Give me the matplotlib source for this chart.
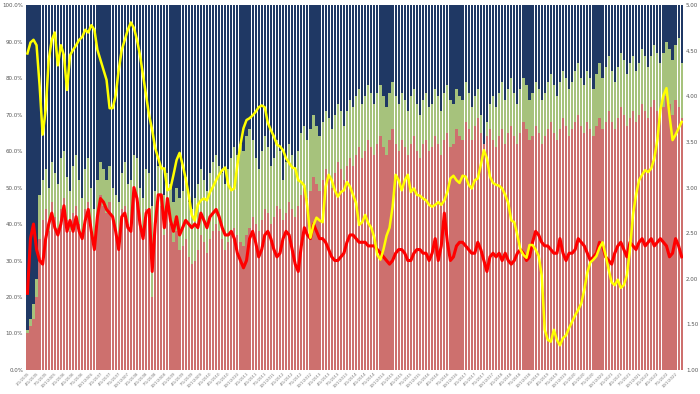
import numpy as np
import pandas as pd
import matplotlib
matplotlib.use('Agg')
import matplotlib.pyplot as plt
from matplotlib.ticker import FuncFormatter

# monthly periods
dates = pd.date_range('2005-01-01', periods=216, freq='MS')
date_labels = [f'{d.month}/{d.day}/{d.year}' for d in dates]

# share of the bottom segment (red), %
red_share = [
    10, 12, 14, 20, 36, 41, 44, 38, 46, 42, 39, 44, 47, 41, 38, 43, 45, 40, 37, 44,
    46, 40, 35, 42, 48, 45, 43, 46, 41, 38, 36, 44, 45, 40, 41, 49, 47, 41, 38, 44,
    43, 20, 39, 46, 45, 37, 44, 40, 35, 38, 33, 34, 36, 31, 29, 30, 33, 37, 35, 32,
    36, 38, 40, 38, 36, 33, 35, 38, 39, 37, 35, 34, 37, 39, 42, 40, 38, 41, 44, 43,
    40, 42, 45, 44, 41, 43, 46, 44, 42, 45, 48, 50, 47, 49, 53, 51, 49, 52, 55, 53,
    50, 54, 57, 55, 52, 56, 58, 56, 59, 61, 58, 60, 63, 61, 59, 62, 64, 61, 59, 63,
    66, 62, 60, 63, 61, 59, 62, 64, 60, 58, 62, 63, 60, 61, 64, 62, 59, 63, 65, 61,
    62, 66, 64, 63, 68, 66, 63, 67, 69, 65, 62, 64, 66, 63, 61, 64, 66, 62, 65, 67,
    64, 62, 65, 68, 66, 63, 64, 67, 65, 62, 64, 66, 68, 65, 63, 66, 69, 67, 64, 66,
    68, 70, 67, 65, 68, 66, 64, 67, 69, 66, 68, 71, 68, 66, 69, 72, 70, 67, 69, 71,
    68, 70, 73, 71, 69, 72, 74, 71, 69, 72, 75, 73, 70, 74, 72, 69,
]

# top of the middle segment (red + green), %
green_top = [
    11, 14, 18, 25, 48, 52, 55, 50, 57, 54, 51, 58, 60, 53, 49, 56, 59, 52, 47, 55,
    58, 50, 44, 52, 57, 55, 52, 56, 50, 48, 46, 54, 57, 51, 52, 59, 58, 50, 47, 55,
    54, 45, 49, 56, 55, 48, 54, 51, 46, 50, 47, 49, 53, 46, 44, 47, 51, 55, 52, 49,
    54, 57, 59, 56, 54, 51, 55, 58, 61, 59, 62, 60, 64, 66, 63, 58, 55, 60, 64, 61,
    56, 58, 63, 60, 52, 57, 62, 59, 55, 60, 65, 67, 63, 66, 70, 67, 64, 68, 71, 69,
    66, 70, 73, 71, 67, 71, 74, 72, 75, 77, 73, 75, 78, 76, 73, 76, 78, 75, 72, 76,
    79, 75, 73, 76, 74, 71, 75, 77, 73, 70, 74, 76, 72, 73, 77, 75, 71, 76, 78, 74,
    73, 77, 75, 74, 79, 76, 72, 75, 77, 70, 62, 68, 73, 75, 72, 76, 79, 74, 77, 80,
    76, 73, 77, 80, 78, 74, 76, 79, 77, 74, 76, 79, 81, 78, 75, 79, 82, 80, 77, 79,
    82, 84, 80, 78, 82, 80, 77, 81, 84, 80, 83, 86, 82, 79, 83, 87, 85, 81, 84, 86,
    82, 84, 88, 86, 83, 86, 89, 87, 84, 87, 90, 88, 85, 89, 91, 84,
]

# red line, left axis (%)
red_line = [
    21, 36, 40, 33, 30, 29, 36, 40, 43, 39, 37, 40, 45, 38, 41, 38, 42, 38, 36, 41,
    44, 38, 33, 42, 47, 46, 44, 43, 42, 38, 33, 42, 43, 39, 38, 50, 47, 40, 36, 43,
    44, 27, 40, 48, 48, 39, 47, 41, 38, 42, 37, 39, 41, 40, 39, 40, 39, 43, 41, 39,
    42, 43, 44, 42, 39, 37, 37, 38, 36, 32, 30, 28, 30, 36, 38, 35, 31, 33, 37, 38,
    36, 33, 31, 32, 36, 38, 37, 33, 29, 27, 34, 39, 37, 36, 40, 38, 36, 36, 35, 33,
    31, 30, 30, 31, 32, 35, 37, 37, 36, 35, 35, 35, 34, 34, 34, 33, 32, 31, 30, 29,
    30, 32, 33, 33, 32, 30, 30, 32, 33, 33, 32, 32, 30, 32, 36, 30, 34, 43, 35, 30,
    31, 34, 35, 35, 34, 33, 32, 32, 35, 33, 30, 27, 31, 32, 31, 32, 30, 32, 30, 29,
    30, 32, 33, 32, 30, 31, 35, 38, 37, 35, 34, 34, 33, 32, 32, 36, 32, 30, 32, 32,
    33, 36, 35, 34, 32, 30, 31, 32, 35, 34, 31, 30, 29, 32, 34, 35, 33, 31, 35, 34,
    33, 35, 36, 34, 35, 36, 34, 35, 36, 35, 34, 31, 32, 36, 34, 31,
]

# yellow line, right axis
yellow_line = [
    4.47, 4.59, 4.62, 4.56, 4.12, 3.58, 3.85, 4.40, 4.62, 4.70,
    4.34, 4.56, 4.45, 4.07, 4.45, 4.51, 4.56, 4.62, 4.65, 4.73,
    4.70, 4.78, 4.73, 4.51, 4.40, 4.29, 4.18, 3.87, 3.87, 4.01,
    4.29, 4.51, 4.62, 4.73, 4.81, 4.75, 4.62, 4.45, 4.23, 4.01,
    3.79, 3.63, 3.43, 3.32, 3.21, 3.21, 2.97, 2.99, 3.14, 3.30,
    3.38, 3.25, 3.10, 2.92, 2.70, 2.64, 2.81, 2.86, 2.88, 2.86,
    2.95, 3.01, 3.08, 3.14, 3.19, 3.22, 3.03, 2.97, 2.99, 3.25,
    3.47, 3.65, 3.74, 3.76, 3.79, 3.83, 3.88, 3.90, 3.88, 3.71,
    3.63, 3.56, 3.47, 3.45, 3.41, 3.32, 3.27, 3.22, 3.21, 3.08,
    3.06, 3.02, 2.79, 2.45, 2.59, 2.67, 2.64, 2.62, 3.01, 3.14,
    3.08, 2.97, 2.90, 2.95, 2.97, 3.06, 3.01, 2.92, 2.83, 2.59,
    2.62, 2.70, 2.61, 2.56, 2.45, 2.26, 2.21, 2.32, 2.47, 2.56,
    2.79, 3.14, 3.08, 2.97, 3.08, 3.14, 2.95, 2.99, 2.92, 2.91,
    2.88, 2.86, 2.81, 2.79, 2.81, 2.84, 2.81, 2.86, 2.95, 3.10,
    3.13, 3.08, 3.05, 3.13, 3.12, 3.03, 2.99, 3.08, 3.10, 3.25,
    3.41, 3.32, 3.12, 3.05, 3.03, 3.02, 2.99, 2.92, 2.83, 2.64,
    2.62, 2.48, 2.32, 2.26, 2.23, 2.37, 2.37, 2.32, 2.25, 2.04,
    1.44, 1.33, 1.31, 1.44, 1.33, 1.27, 1.35, 1.38, 1.46, 1.53,
    1.60, 1.66, 1.73, 1.88, 2.07, 2.18, 2.21, 2.25, 2.34, 2.40,
    2.26, 2.10, 1.96, 1.93, 1.99, 1.90, 1.93, 2.04, 2.32, 2.70,
    2.92, 3.08, 3.14, 3.19, 3.17, 3.21, 3.32, 3.52, 3.85, 4.01,
    4.09, 3.79, 3.52, 3.58, 3.65, 3.72,
]

red = np.array(red_share, dtype=float)
green = np.array(green_top, dtype=float) - red
navy = 100 - np.array(green_top, dtype=float)
x = np.arange(len(red))

fig = plt.figure(figsize=(7, 3.94), dpi=100)
ax = fig.add_axes([0.037, 0.061, 0.939, 0.926])

bw = 0.72
ax.bar(x, red, width=bw, color='#c65c5a', linewidth=0, alpha=0.88)
ax.bar(x, green, width=bw, bottom=red, color='#a6c27c', linewidth=0)
ax.bar(x, navy, width=bw, bottom=np.array(green_top), color='#1f3864', linewidth=0)
ax.plot(x, red_line, color='#ff0000', lw=2.2, solid_joinstyle='round')

ax.set_xlim(-0.5, len(x) - 0.5)
ax.set_ylim(0, 100)
ax.set_yticks(np.arange(0, 101, 10))
ax.yaxis.set_major_formatter(FuncFormatter(lambda v, p: f'{v:.1f}%'))
ax.set_xticks(x[::3])
ax.set_xticklabels(date_labels[::3], rotation=45, ha='right', rotation_mode='anchor')

ax2 = ax.twinx()
ax2.plot(x, yellow_line, color='#ffff00', lw=1.8, solid_joinstyle='round')
ax2.set_ylim(1, 5)
ax2.set_yticks(np.arange(1, 5.01, 0.5))
ax2.yaxis.set_major_formatter(FuncFormatter(lambda v, p: f'{v:.2f}'))

for a in [ax, ax2]:
    a.tick_params(length=0, labelsize=4, colors='#555555', pad=2)
    for s in a.spines.values():
        s.set_visible(False)
ax.tick_params(axis='x', labelsize=2.8, pad=1, colors='#777777')

fig.savefig('out.png', dpi=100)
